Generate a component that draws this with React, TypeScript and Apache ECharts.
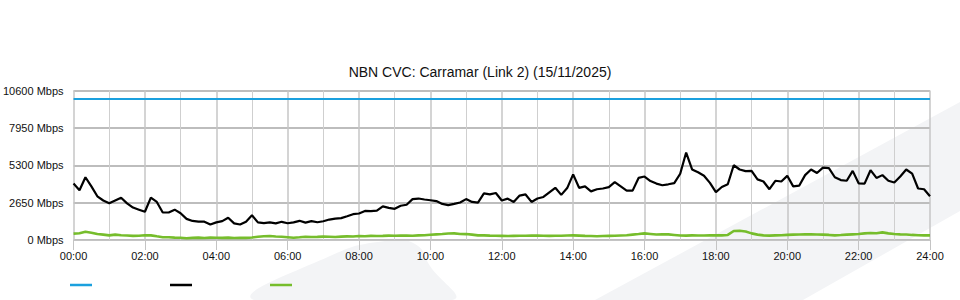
import React, { useEffect, useRef } from "react";
import * as echarts from "echarts";

const TITLE = "NBN CVC: Carramar (Link 2) (15/11/2025)";
const STEP_HOURS = 1 / 6; // 10-minute samples
const CAPACITY = 10000;
const Y_TICKS = [0, 2650, 5300, 7950, 10600];
const X_TICK_HOURS = [0, 2, 4, 6, 8, 10, 12, 14, 16, 18, 20, 22, 24];

// Black series (Mbps), 10-minute samples 00:00 .. 24:00
const traffic = [
  4000, 3530, 4450, 3800, 3100, 2800,
  2600, 2800, 3000, 2600, 2300, 2150,
  2000, 3000, 2700, 1950, 1950, 2150,
  1900, 1500, 1350, 1300, 1300, 1100,
  1250, 1340, 1580, 1180, 1100, 1300,
  1750, 1250, 1200, 1250, 1180, 1290,
  1190, 1250, 1360, 1230, 1340, 1260,
  1330, 1450, 1520, 1550, 1680, 1830,
  1880, 2060, 2050, 2080, 2380, 2280,
  2210, 2430, 2500, 2900, 2940, 2870,
  2820, 2760, 2560, 2470, 2560, 2660,
  2900, 2700, 2650, 3300, 3230, 3330,
  2800, 2930, 2700, 3150, 3230, 2700,
  2940, 3050, 3380, 3700, 3200, 3680,
  4650, 3700, 3800, 3450, 3600, 3650,
  3750, 4100, 3800, 3500, 3500, 4400,
  4500, 4180, 4000, 3880, 3950, 4030,
  4700, 6200, 5000, 4800, 4560, 4050,
  3400, 3760, 3950, 5300, 5000, 4880,
  4900, 4300, 4150, 3600, 4200, 4150,
  4550, 3800, 3850, 4600, 5000, 4750,
  5130, 5100, 4450, 4250, 4200, 4900,
  4020, 4000, 4950, 4400, 4600, 4200,
  4080, 4500, 5000, 4700, 3650, 3600,
  3100,
];

// Green series (Mbps), 10-minute samples 00:00 .. 24:00
const upstream = [
  450, 480, 590, 520, 420, 380,
  330, 380, 340, 320, 290, 300,
  340, 330, 260, 200, 190, 170,
  160, 120, 150, 170, 140, 170,
  160, 150, 170, 140, 160, 150,
  180, 230, 270, 280, 250, 230,
  200, 160, 190, 230, 210, 220,
  240, 230, 210, 240, 260, 250,
  280, 270, 290, 280, 290, 310,
  300, 320, 310, 300, 330, 340,
  370, 400, 420, 460, 470, 430,
  420, 380, 330, 330, 310, 300,
  290, 280, 290, 300, 300, 310,
  320, 300, 290, 300, 300, 320,
  330, 310, 290, 280, 270, 280,
  290, 300, 320, 340, 380, 420,
  470, 430, 390, 400, 400, 360,
  320, 310, 330, 320, 320, 330,
  330, 330, 360, 640, 660, 600,
  470, 380, 330, 310, 330, 340,
  360, 380, 390, 400, 410, 390,
  380, 360, 330, 350, 380, 400,
  420, 470, 500, 480, 540, 470,
  420, 400, 390, 360, 340, 330,
  330,
];

const BLUE = "#1ba0de";
const BLACK = "#000000";
const GREEN = "#76bd2c";
const FONT = "'Liberation Sans', Arial, sans-serif";

export default function App() {
  const ref = useRef<HTMLDivElement>(null);

  useEffect(() => {
    if (!ref.current) return;
    const chart = echarts.init(ref.current, undefined, { renderer: "svg" });

    const trafficData = traffic.map((v, i) => [i * STEP_HOURS, v]);
    const upstreamData = upstream.map((v, i) => [i * STEP_HOURS, v]);
    const capacityData = traffic.map((_, i) => [i * STEP_HOURS, CAPACITY]);

    chart.setOption({
      animation: false,
      backgroundColor: "#ffffff",
      textStyle: { fontFamily: FONT },
      title: {
        text: TITLE,
        left: "center",
        top: 60,
        textStyle: { fontFamily: FONT, fontSize: 14, fontWeight: "normal", color: "#111" },
      },
      grid: { left: 70, right: 30, top: 90.5, bottom: 60, containLabel: false },
      xAxis: {
        type: "value",
        min: 0,
        max: 24,
        interval: 2,
        axisLine: { show: true, lineStyle: { color: "#c4c4c4", width: 1 } },
        axisTick: { show: true, length: 10, lineStyle: { color: "#c4c4c4" } },
        axisLabel: {
          color: "#111",
          fontSize: 11,
          fontFamily: FONT,
          margin: 10,
          formatter: (v: number) =>
            X_TICK_HOURS.includes(v) ? String(v).padStart(2, "0") + ":00" : "",
        },
        splitLine: { show: true, lineStyle: { color: "#c6c6c6", width: 1.5 } },
        minorTick: { show: false, splitNumber: 2 },
        minorSplitLine: { show: true, lineStyle: { color: "#cfcfcf", width: 1 } },
      },
      yAxis: {
        type: "value",
        min: 0,
        max: Y_TICKS[Y_TICKS.length - 1],
        interval: 2650,
        axisLine: { show: false },
        axisTick: { show: false },
        axisLabel: {
          color: "#111",
          fontSize: 11,
          fontFamily: FONT,
          margin: 10,
          padding: [0, 0, 4, 0],
          formatter: (v: number) => v + " Mbps",
        },
        splitLine: { show: true, lineStyle: { color: "#bdbdbd", width: 2 } },
      },
      graphic: [
        {
          type: "polygon",
          z: -10,
          silent: true,
          shape: {
            points: [
              [254, 300], [330, 256], [385, 241], [415, 244], [430, 266], [452, 300],
            ],
            smooth: 0.5,
          },
          style: { fill: "#f3f4f6" },
        },
        {
          type: "polygon",
          z: -10,
          silent: true,
          shape: { points: [[595, 300], [960, 102], [960, 211], [803, 300]] },
          style: { fill: "#f3f4f6" },
        },
        {
          type: "line",
          shape: { x1: 70, y1: 285, x2: 92, y2: 285 },
          style: { stroke: BLUE, lineWidth: 2.5 },
        },
        {
          type: "line",
          shape: { x1: 170, y1: 285, x2: 192, y2: 285 },
          style: { stroke: BLACK, lineWidth: 2.5 },
        },
        {
          type: "line",
          shape: { x1: 270, y1: 285, x2: 292, y2: 285 },
          style: { stroke: GREEN, lineWidth: 2.5 },
        },
      ],
      series: [
        {
          name: "Capacity",
          type: "line",
          data: capacityData,
          showSymbol: false,
          lineStyle: { color: BLUE, width: 2 },
          itemStyle: { color: BLUE },
        },
        {
          name: "Traffic",
          type: "line",
          data: trafficData,
          showSymbol: false,
          lineStyle: { color: BLACK, width: 2.2 },
          itemStyle: { color: BLACK },
        },
        {
          name: "Upstream",
          type: "line",
          data: upstreamData,
          showSymbol: false,
          lineStyle: { color: GREEN, width: 2.6 },
          itemStyle: { color: GREEN },
        },
      ],
    });

    return () => chart.dispose();
  }, []);

  return (
    <div
      ref={ref}
      style={{ position: "absolute", left: 0, top: 0, width: 960, height: 300 }}
    />
  );
}
